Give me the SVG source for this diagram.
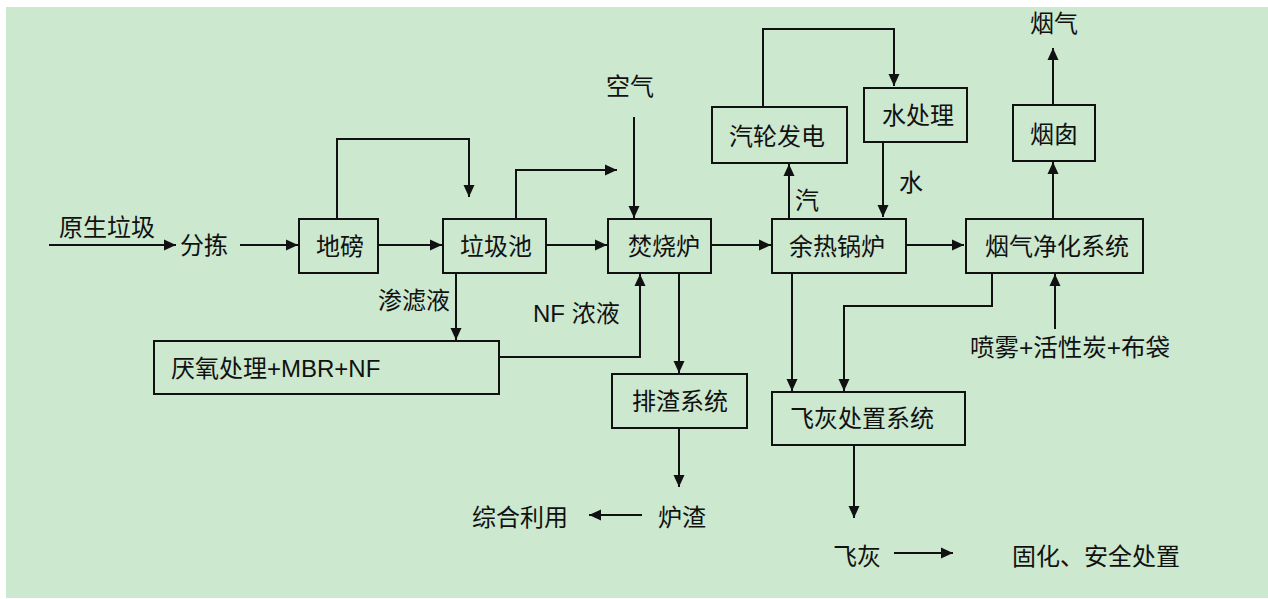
<svg xmlns="http://www.w3.org/2000/svg" width="1268" height="599" viewBox="0 0 1268 599">
<style>
.bg{fill:#cce8cf}
.box{fill:none;stroke:#111;stroke-width:2}
.ln{fill:none;stroke:#111;stroke-width:2;marker-end:url(#ah)}
.pl{fill:none;stroke:#111;stroke-width:2}
text{font-family:"Liberation Sans","Noto Sans CJK SC",sans-serif;font-size:24px;fill:#111}
.c{text-anchor:middle}
</style>
<defs>
<marker id="ah" viewBox="0 0 12 12" refX="12" refY="6" markerWidth="12" markerHeight="12" markerUnits="userSpaceOnUse" orient="auto">
<path d="M0,0.5 L12,6 L0,11.5 z" fill="#111"/>
</marker>
</defs>
<rect x="0" y="0" width="1268" height="599" fill="#ffffff"/>
<rect class="bg" x="6" y="7" width="1262" height="591"/>

<g id="connectors">
<line class="ln" x1="49" y1="245" x2="176" y2="245"/>
<line class="ln" x1="240" y1="245" x2="298" y2="245"/>
<line class="ln" x1="378" y1="245" x2="442" y2="245"/>
<polyline class="ln" points="337,219 337,139 469,139 469,197"/>
<line class="ln" x1="546" y1="245" x2="607" y2="245"/>
<polyline class="ln" points="516,219 516,170 617,170"/>
<line class="ln" x1="634" y1="117" x2="634" y2="218"/>
<line class="ln" x1="711" y1="245" x2="771" y2="245"/>
<line class="ln" x1="789" y1="219" x2="789" y2="164"/>
<polyline class="ln" points="763,107 763,29 894,29 894,86"/>
<line class="ln" x1="883" y1="142" x2="883" y2="217"/>
<line class="ln" x1="906" y1="245" x2="964" y2="245"/>
<line class="ln" x1="1053" y1="219" x2="1053" y2="162"/>
<line class="ln" x1="1053" y1="105" x2="1053" y2="48"/>
<line class="ln" x1="456" y1="273" x2="456" y2="340"/>
<polyline class="ln" points="499,357 640,357 640,274"/>
<line class="ln" x1="679" y1="273" x2="679" y2="373"/>
<line class="ln" x1="679" y1="428" x2="679" y2="487"/>
<line class="ln" x1="642" y1="515" x2="589" y2="515"/>
<line class="ln" x1="792" y1="273" x2="792" y2="391"/>
<polyline class="ln" points="992,273 992,306 844,306 844,391"/>
<line class="ln" x1="1055" y1="329" x2="1055" y2="274"/>
<line class="ln" x1="854" y1="445" x2="854" y2="518"/>
<line class="ln" x1="894" y1="553" x2="953" y2="553"/>
</g>

<g id="n-dibang"><rect class="box" x="299" y="219" width="79" height="54"/><text class="c" x="340" y="255">地磅</text></g>
<g id="n-lajichi"><rect class="box" x="443" y="219" width="103" height="54"/><text class="c" x="496" y="255">垃圾池</text></g>
<g id="n-fenshaolu"><rect class="box" x="608" y="219" width="103" height="54"/><text class="c" x="664" y="255">焚烧炉</text></g>
<g id="n-yureguolu"><rect class="box" x="772" y="219" width="134" height="54"/><text class="c" x="837" y="255">余热锅炉</text></g>
<g id="n-yanqijinghua"><rect class="box" x="966" y="219" width="177" height="54"/><text class="c" x="1057" y="255">烟气净化系统</text></g>
<g id="n-qilunfadian"><rect class="box" x="712" y="107" width="135" height="56"/><text class="c" x="777" y="145">汽轮发电</text></g>
<g id="n-shuichuli"><rect class="box" x="864" y="88" width="103" height="54"/><text class="c" x="918" y="124">水处理</text></g>
<g id="n-yancong"><rect class="box" x="1013" y="105" width="82" height="56"/><text class="c" x="1054" y="143">烟囱</text></g>
<g id="n-yanyang"><rect class="box" x="154" y="341" width="345" height="53"/><text x="171" y="377">厌氧处理+MBR+NF</text></g>
<g id="n-paizha"><rect class="box" x="612" y="374" width="135" height="54"/><text class="c" x="680" y="410">排渣系统</text></g>
<g id="n-feihuichuzhi"><rect class="box" x="772" y="392" width="193" height="53"/><text class="c" x="862" y="427">飞灰处置系统</text></g>

<g id="labels">
<text x="59" y="236">原生垃圾</text>
<text x="180" y="254">分拣</text>
<text class="c" x="630" y="95">空气</text>
<text class="c" x="807" y="209">汽</text>
<text class="c" x="911" y="191">水</text>
<text class="c" x="1054" y="32">烟气</text>
<text x="378" y="309">渗滤液</text>
<text x="533" y="322">NF 浓液</text>
<text x="970" y="356" textLength="200" lengthAdjust="spacingAndGlyphs">喷雾+活性炭+布袋</text>
<text x="658" y="526">炉渣</text>
<text x="472" y="526">综合利用</text>
<text x="833" y="565">飞灰</text>
<text x="1012" y="565">固化、安全处置</text>
</g>
</svg>
